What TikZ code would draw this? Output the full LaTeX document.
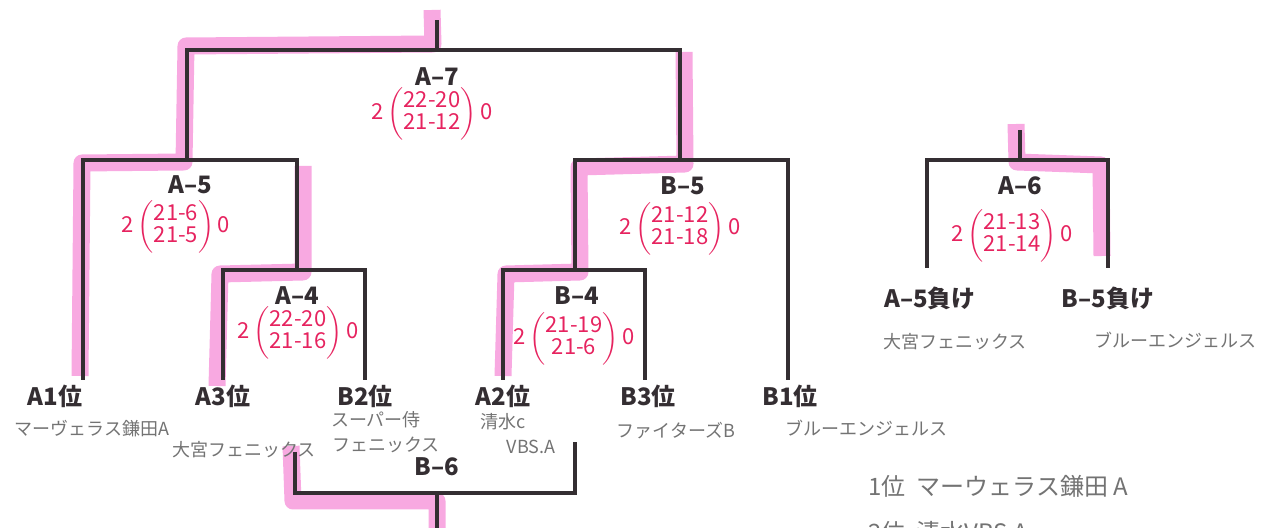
\documentclass[tikz,border=0pt]{standalone}
\usepackage{amsmath}
\usepackage{fontspec}
\setmainfont{Noto Sans CJK JP}
\usepackage{xcolor}
\usepackage{tikz}
\usetikzlibrary{positioning}
\definecolor{barline}{RGB}{52,46,50}
\definecolor{marker}{RGB}{245,140,215}
\definecolor{pen}{RGB}{230,35,95}
\definecolor{pencil}{RGB}{115,115,115}

\newcommand{\scorepair}[2]{$\text{2}\left(\begin{tabular}{@{}c@{}}#1\\#2\end{tabular}\right)\text{0}$}

\tikzset{
  bar/.style={line width=2pt, draw=barline},
  hl/.style={line width=8.5pt, draw=marker, opacity=0.75, line join=round},
  slot/.style={font=\bfseries\fontsize{12}{13}\selectfont, text=barline, inner sep=0pt},
  score/.style={font=\fontsize{11}{10.5}\selectfont, text=pen, inner sep=0pt},
  note/.style={font=\fontsize{9}{10}\selectfont, text=pencil, inner sep=1pt},
  rank/.style={font=\fontsize{12}{13}\selectfont, text=pencil, inner sep=1pt, anchor=west}
}

\begin{document}
\begin{tikzpicture}[x=0.5pt, y=-0.5pt]

  \useasboundingbox (0,0) rectangle (1285,528);
  \clip (0,0) rectangle (1285,528);

  % Leg ends
  \coordinate (A1) at (83, 380);
  \coordinate (A3) at (223, 380);
  \coordinate (B2) at (365, 380);
  \coordinate (A2) at (503, 380);
  \coordinate (B3) at (645, 380);
  \coordinate (B1) at (788, 380);
  \coordinate (A5L) at (927, 268);
  \coordinate (B5L) at (1108, 268);

  % Match joints
  \coordinate (a4)    at (297, 270);
  \coordinate (b4)    at (575, 270);
  \coordinate (a5)    at (187, 160);
  \coordinate (b5)    at (680, 160);
  \coordinate (a7)    at (437, 50);
  \coordinate (a7top) at (437, 20);
  \coordinate (a6)    at (1020, 160);
  \coordinate (a6top) at (1020, 130);
  \coordinate (b6L)   at (295, 452);
  \coordinate (b6R)   at (575, 442);
  \coordinate (b6)    at (437, 493);
  \coordinate (b6bot) at (437, 530);

  % Marker
  \draw[hl] (432,10) -- (433,44) -- (186,46) -- (184,162) -- (82,163) -- (80,376);
  \draw[hl] (303,166) -- (303,272) -- (220,274) -- (217,386);
  \draw[hl] (684,52) -- (685,164) -- (579,167) -- (580,272) -- (506,274) -- (503,376);
  \draw[hl] (1016,124) -- (1017,162) -- (1101,165) -- (1102,256);
  \draw[hl] (291,446) -- (293,501) -- (437,501) -- (437,530);

  % Bracket
  \draw[bar] (A3) |- (a4) -| (B2);
  \draw[bar] (A2) |- (b4) -| (B3);
  \draw[bar] (A1) |- (a5) -| (a4);
  \draw[bar] (b4) |- (b5) -| (B1);
  \draw[bar] (a5) |- (a7) -| (b5);
  \draw[bar] (a7) -- (a7top);
  \draw[bar] (A5L) |- (a6) -| (B5L);
  \draw[bar] (a6) -- (a6top);
  \draw[bar] (b6L) |- (b6) -| (b6R);
  \draw[bar] (b6) -- (b6bot);

  % Match labels
  \node[slot] (m7) at (437, 77)  {A--7};
  \node[slot] (m5a) at (190, 185) {A--5};
  \node[slot] (m4a) at (297, 296) {A--4};
  \node[slot] (m5b) at (683, 186) {B--5};
  \node[slot] (m4b) at (577, 296) {B--4};
  \node[slot] (m6a) at (1020, 186) {A--6};
  \node[slot] (m6b) at (437, 467) {B--6};

  % Slot labels
  \node[slot] (A1lbl) at (55, 396)  {A1位};
  \node[slot] (A3lbl) at (223, 396) {A3位};
  \node[slot] (B2lbl) at (365, 396) {B2位};
  \node[slot] (A2lbl) at (503, 396) {A2位};
  \node[slot] (B3lbl) at (648, 396) {B3位};
  \node[slot] (B1lbl) at (790, 396) {B1位};
  \node[slot] (A5Llbl) at (930, 298) {A--5負け};
  \node[slot] (B5Llbl) at (1108, 298) {B--5負け};

  % Scores
  \node[score] (s7)  at (432, 114)  {\scorepair{22-20}{21-12}};
  \node[score] (s5a) at (176, 227)  {\scorepair{21-6}{21-5}};
  \node[score] (s4a) at (298, 333)  {\scorepair{22-20}{21-16}};
  \node[score] (s5b) at (680, 229)  {\scorepair{21-12}{21-18}};
  \node[score] (s4b) at (574, 339)  {\scorepair{21-19}{21-6}};
  \node[score] (s6a) at (1012, 236) {\scorepair{21-13}{21-14}};

  % Team names
  \node[note] (tA1)  at (92, 429)   {マーヴェラス鎌田A};
  \node[note] (tA3)  at (244, 450)  {大宮フェニックス};
  \node[note] (tB2a) at (376, 420)  {スーパー侍};
  \node[note] (tB2b) at (386, 445)  {フェニックス};
  \node[note] (tA2a) at (503, 422)  {清水c};
  \node[note] (tA2b) at (531, 447)  {VBS.A};
  \node[note] (tB3)  at (676, 431)  {ファイターズB};
  \node[note] (tB1)  at (866, 428)  {ブルーエンジェルス};
  \node[note] (tA5L) at (955, 342)  {大宮フェニックス};
  \node[note] (tB5L) at (1175, 340) {ブルーエンジェルス};

  % Final ranking
  \node[rank] (rank1) at (866, 486) {1位\ \ マーウェラス鎌田\ A};
  \node[rank] (rank2) at (866, 532) {2位\ \ 清水VBS\ A};

\end{tikzpicture}
\end{document}
